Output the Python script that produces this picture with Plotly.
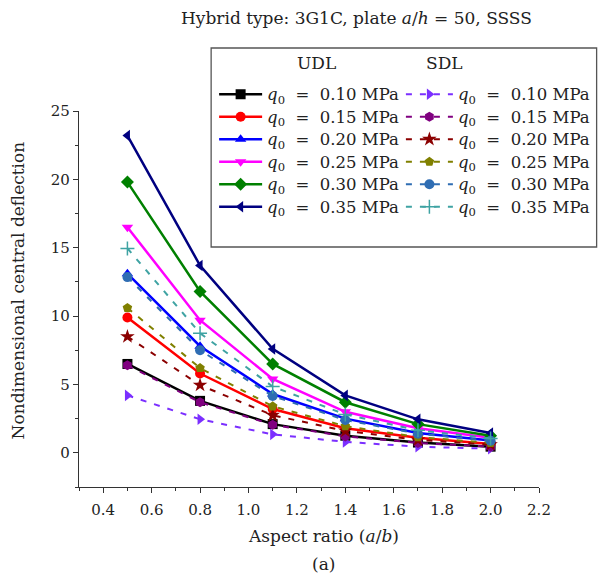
import plotly.graph_objects as go

# ---------------- data ----------------
aspect_ratio = [0.5, 0.8, 1.1, 1.4, 1.7, 2.0]
load_labels = ["0.10", "0.15", "0.20", "0.25", "0.30", "0.35"]

udl_010 = [6.5, 3.8, 2.1, 1.25, 0.75, 0.45]
udl_015 = [9.9, 5.8, 3.2, 1.8, 1.1, 0.65]
udl_020 = [13.1, 7.8, 4.3, 2.5, 1.45, 0.9]
udl_025 = [16.5, 9.7, 5.4, 3.0, 1.8, 1.1]
udl_030 = [19.8, 11.8, 6.5, 3.7, 2.1, 1.25]
udl_035 = [23.2, 13.7, 7.6, 4.2, 2.45, 1.45]

sdl_010 = [4.2, 2.45, 1.35, 0.8, 0.45, 0.3]
sdl_015 = [6.4, 3.7, 2.05, 1.2, 0.72, 0.45]
sdl_020 = [8.5, 4.95, 2.75, 1.6, 0.95, 0.6]
sdl_025 = [10.6, 6.2, 3.4, 1.95, 1.15, 0.72]
sdl_030 = [12.85, 7.5, 4.15, 2.4, 1.4, 0.88]
sdl_035 = [14.95, 8.75, 4.85, 2.8, 1.65, 1.05]

udl_series = [udl_010, udl_015, udl_020, udl_025, udl_030, udl_035]
sdl_series = [sdl_010, sdl_015, sdl_020, sdl_025, sdl_030, sdl_035]

# ---------------- styles ----------------
udl_colors = ["#000000", "#ff0000", "#0000ff", "#ff00ff", "#008000", "#000080"]
udl_symbols = ["square", "circle", "triangle-up", "triangle-down", "diamond", "triangle-left"]
sdl_colors = ["#7b2fff", "#800080", "#8b0000", "#808000", "#2f6db3", "#3fa3a3"]
sdl_symbols = ["triangle-right", "hexagon", "star", "pentagon", "circle", "cross-thin"]

W, H = 607, 577
L, R, T, B = 79, 65, 111, 90
pw, ph = W - L - R, H - T - B

def px(x):
    return (x - L) / pw

def py(y):
    return (H - B - y) / ph

FONT = "DejaVu Serif"
TXT = "#222222"

def label(q):
    return ('<span style="font-size:16.5px"><i>q</i><sub>0</sub>&nbsp;&nbsp;=&nbsp;&nbsp;'
            + q + '&nbsp;MPa</span>')

fig = go.Figure()

for i, ys in enumerate(udl_series):
    fig.add_trace(go.Scatter(
        x=aspect_ratio, y=ys, mode="lines+markers",
        name=label(load_labels[i]), legend="legend",
        line=dict(color=udl_colors[i], width=2.5),
        marker=dict(symbol=udl_symbols[i], size=10, color=udl_colors[i]),
    ))

for i, ys in enumerate(sdl_series):
    sym = sdl_symbols[i]
    mk = dict(symbol=sym, size=10 if sym != "star" else 11, color=sdl_colors[i])
    if sym == "cross-thin":
        mk["line"] = dict(color=sdl_colors[i], width=1.5)
    fig.add_trace(go.Scatter(
        x=aspect_ratio, y=ys, mode="lines+markers",
        name=label(load_labels[i]), legend="legend2",
        line=dict(color=sdl_colors[i], width=2, dash="6px,8px"),
        marker=mk,
    ))

axis_common = dict(
    showgrid=False, zeroline=False, showline=True, linecolor="#333333",
    linewidth=1.3, ticks="outside", ticklen=5, tickcolor="#333333",
    tickfont=dict(family=FONT, size=15, color=TXT),
    mirror=False,
)

fig.update_xaxes(
    range=[0.3, 2.2], tick0=0.4, dtick=0.2, tickformat=".1f",
    ticklabelstandoff=4,
    minor=dict(ticks="outside", dtick=0.1, ticklen=3, tickcolor="#333333"),
    **axis_common,
)
fig.update_yaxes(
    range=[-2.5, 25], tick0=0, dtick=5,
    minor=dict(ticks="outside", dtick=2.5, ticklen=3, tickcolor="#333333"),
    **axis_common,
)

leg_common = dict(
    xref="paper", yref="paper", xanchor="left", yanchor="top",
    bgcolor="rgba(0,0,0,0)", borderwidth=0, tracegroupgap=0,
    font=dict(family=FONT, size=15, color=TXT),
)

def ann(text, x, y, size, angle=0):
    return dict(text=text, x=px(x), y=py(y), xref="paper", yref="paper",
                xanchor="center", yanchor="middle", textangle=angle,
                showarrow=False, font=dict(family=FONT, size=size, color=TXT))

fig.update_layout(
    width=W, height=H,
    margin=dict(l=L, r=R, t=T, b=B),
    paper_bgcolor="white", plot_bgcolor="white",
    showlegend=True,
    legend=dict(x=px(215), y=py(78), itemwidth=43, **leg_common),
    legend2=dict(x=px(403), y=py(78), itemwidth=47, **leg_common),
    shapes=[dict(type="rect", xref="paper", yref="paper",
                 x0=px(212), x1=px(600), y0=py(247), y1=py(48),
                 line=dict(color="#555555", width=1.3),
                 fillcolor="rgba(0,0,0,0)", layer="below")],
    annotations=[
        ann("Hybrid type: 3G1C, plate <i>a</i>/<i>h</i> = 50, SSSS", 358, 18, 17),
        ann("UDL", 318, 63, 17),
        ann("SDL", 447, 63, 17),
        ann("Aspect ratio (<i>a</i>/<i>b</i>)", 325, 536, 17),
        ann("(a)", 325, 564, 17),
        ann("Nondimensional central deflection", 18, 290, 17, angle=-90),
    ],
)

fig.write_html("out.html")
